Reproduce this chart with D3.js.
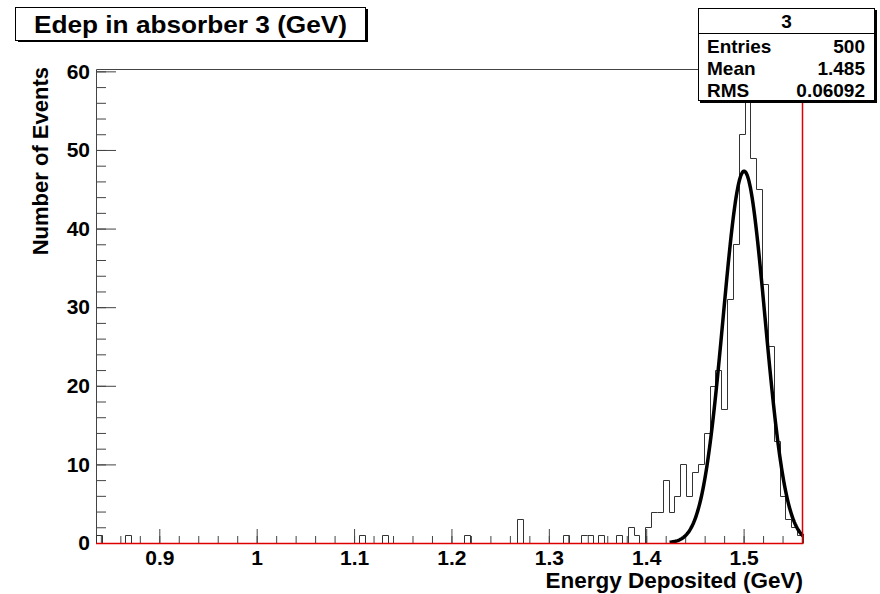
<!DOCTYPE html>
<meta charset="utf-8">
<style>

body {
  margin: 0;
  background: #fff;
}

svg {
  display: block;
  font-family: "Liberation Sans", Arial, sans-serif;
  font-weight: bold;
}

</style>
<body>
<script src="https://cdn.jsdelivr.net/npm/d3@7/dist/d3.min.js"></script>
<script>

var width = 880,
    height = 594;

var frame = {left: 96, right: 803, top: 69, bottom: 543};

// histogram: 121 bins of 0.006 GeV starting at 0.835
var xMin = 0.835,
    binWidth = 0.006;

var counts = [
  1, 0, 0, 0, 0, 1, 0, 0, 0, 0,
  0, 0, 0, 0, 0, 0, 0, 0, 0, 0,
  0, 0, 0, 0, 0, 0, 0, 0, 0, 0,
  0, 0, 0, 0, 0, 0, 0, 0, 0, 0,
  0, 0, 0, 0, 0, 1, 0, 0, 0, 1,
  0, 0, 0, 0, 0, 0, 0, 0, 0, 0,
  0, 0, 0, 1, 0, 0, 0, 0, 0, 0,
  0, 0, 3, 0, 0, 0, 0, 0, 0, 0,
  1, 0, 0, 1, 1, 0, 1, 0, 0, 1,
  0, 2, 1, 0, 2, 4, 4, 8, 4, 6,
  10, 6, 9, 10, 14, 20, 22, 17, 31, 38,
  52, 57, 49, 45, 33, 25, 13, 6, 3, 2,
  1
];

var yMax = 60.3;

var xMajor = [0.9, 1, 1.1, 1.2, 1.3, 1.4, 1.5],
    xMinor = d3.range(42, 79).map(function(k) { return k / 50; }),
    yMajor = [0, 10, 20, 30, 40, 50, 60],
    yMinor = d3.range(0, 61, 2);

// gaussian fit
var fitConstant = 47.3,
    fitMean = 1.5005,
    fitSigma = 0.0215,
    fitFrom = 1.424;

var statsTitle = "3",
    statsNames = ["Entries", "Mean", "RMS"],
    statsValues = ["500", "1.485", "0.06092"];

var xMax = xMin + counts.length * binWidth;

var x = d3.scaleLinear()
    .domain([xMin, xMax])
    .range([frame.left, frame.right]);

var y = d3.scaleLinear()
    .domain([0, yMax])
    .range([frame.bottom, frame.top]);

var svg = d3.select("body").append("svg")
    .attr("width", width)
    .attr("height", height);

// axes, ticks pointing into the frame
var xAxis = svg.append("g")
    .attr("transform", "translate(0," + frame.bottom + ")")
    .call(d3.axisBottom(x).tickValues(xMajor).tickSizeInner(-14).tickSizeOuter(0)
      .tickPadding(7).tickFormat(d3.format("")));

var xAxisMinor = svg.append("g")
    .attr("transform", "translate(0," + frame.bottom + ")")
    .call(d3.axisBottom(x).tickValues(xMinor).tickSizeInner(-7).tickSizeOuter(0).tickFormat(""));

var yAxis = svg.append("g")
    .attr("transform", "translate(" + frame.left + ",0)")
    .call(d3.axisLeft(y).tickValues(yMajor).tickSizeInner(-20).tickSizeOuter(0).tickPadding(6));

var yAxisMinor = svg.append("g")
    .attr("transform", "translate(" + frame.left + ",0)")
    .call(d3.axisLeft(y).tickValues(yMinor).tickSizeInner(-10).tickSizeOuter(0).tickFormat(""));

svg.selectAll(".domain").remove();
svg.selectAll(".tick line").attr("stroke", "#444");
svg.selectAll(".tick text")
    .attr("fill", "#000")
    .style("font-size", "21px")
    .style("font-family", "'Liberation Sans', Arial, sans-serif")
    .style("font-weight", "bold");

// frame
svg.append("path")
    .attr("fill", "none")
    .attr("stroke", "#444")
    .attr("d", "M" + (frame.left + 0.5) + "," + frame.bottom + "V" + (frame.top + 0.5) + "H" + frame.right);

// histogram outline
var steps = [[xMin, 0]];
counts.forEach(function(c, i) {
  steps.push([xMin + i * binWidth, c]);
  steps.push([xMin + (i + 1) * binWidth, c]);
});
steps.push([xMax, 0]);

svg.append("path")
    .datum(steps)
    .attr("fill", "none")
    .attr("stroke", "#333")
    .attr("stroke-width", 1)
    .attr("d", d3.line()
      .x(function(d) { return Math.round(x(d[0])) + 0.5; })
      .y(function(d) { return Math.round(y(d[1])) + 0.5; }));

// fit curve
var fitX = d3.range(0, 201).map(function(k) { return fitFrom + (xMax - fitFrom) * k / 200; });

svg.append("path")
    .datum(fitX)
    .attr("fill", "none")
    .attr("stroke", "#000")
    .attr("stroke-width", 3.5)
    .attr("stroke-linejoin", "round")
    .attr("d", d3.line()
      .x(function(d) { return x(d); })
      .y(function(d) {
        var t = (d - fitMean) / fitSigma;
        return y(fitConstant * Math.exp(-0.5 * t * t));
      }));

// red bottom and right edges
svg.append("path")
    .attr("fill", "none")
    .attr("stroke", "#d00")
    .attr("stroke-width", 1.5)
    .attr("d", "M" + frame.left + "," + (frame.bottom + 0.5) + "H" + (frame.right - 0.5) + "V" + frame.top);

// axis titles
svg.append("text")
    .attr("x", frame.right)
    .attr("y", 588)
    .attr("text-anchor", "end")
    .style("font-size", "22.5px")
    .text("Energy Deposited (GeV)");

svg.append("text")
    .attr("transform", "translate(48," + 67 + ") rotate(-90)")
    .attr("text-anchor", "end")
    .style("font-size", "22px")
    .text("Number of Events");

// title box
var title = svg.append("g");
title.append("rect")
    .attr("x", 18).attr("y", 9).attr("width", 350).attr("height", 33)
    .attr("fill", "#000");
title.append("rect")
    .attr("x", 15.5).attr("y", 7.5).attr("width", 350).attr("height", 33)
    .attr("fill", "#fff").attr("stroke", "#000");
title.append("text")
    .attr("x", 34)
    .attr("y", 33)
    .attr("textLength", 313)
    .attr("lengthAdjust", "spacingAndGlyphs")
    .style("font-size", "24px")
    .text("Edep in absorber 3 (GeV)");

// stats box
var stats = svg.append("g");
stats.append("rect")
    .attr("x", 700).attr("y", 10).attr("width", 177).attr("height", 93)
    .attr("fill", "#000");
stats.append("rect")
    .attr("x", 698.5).attr("y", 8.5).attr("width", 176).attr("height", 92)
    .attr("fill", "#fff").attr("stroke", "#000");
stats.append("line")
    .attr("x1", 698.5).attr("x2", 874.5).attr("y1", 33.5).attr("y2", 33.5)
    .attr("stroke", "#000");
stats.append("text")
    .attr("x", 786.5).attr("y", 28)
    .attr("text-anchor", "middle")
    .style("font-size", "19px")
    .text(statsTitle);

var rowY = d3.scaleLinear().domain([0, 2]).range([53, 97]);

stats.selectAll(".name")
    .data(statsNames)
  .enter().append("text")
    .attr("class", "name")
    .attr("x", 707)
    .attr("y", function(d, i) { return rowY(i); })
    .style("font-size", "19px")
    .text(function(d) { return d; });

stats.selectAll(".value")
    .data(statsValues)
  .enter().append("text")
    .attr("class", "value")
    .attr("x", 865)
    .attr("y", function(d, i) { return rowY(i); })
    .attr("text-anchor", "end")
    .style("font-size", "19px")
    .text(function(d) { return d; });

</script>
